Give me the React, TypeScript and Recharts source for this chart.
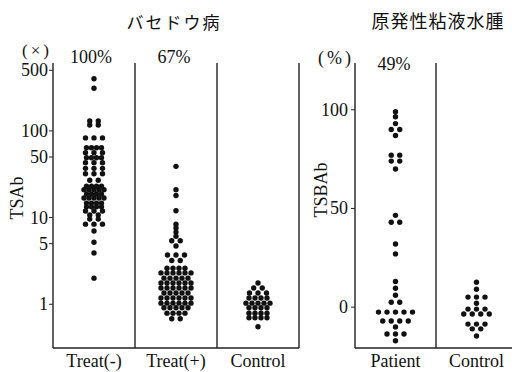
import { ScatterChart, Scatter, XAxis, YAxis, ReferenceLine } from 'recharts';

const serif = '"Liberation Serif", "DejaVu Serif", serif';
const cjk = '"Noto Sans CJK JP", "Noto Sans CJK SC", sans-serif';

const leftCategories = ['Treat(-)', 'Treat(+)', 'Control'];
const rightCategories = ['Patient', 'Control'];

// [value, dots side by side at that level]
const treatMinus: [number, number][] = [
  [400, 1], [310, 1], [130, 2], [117, 2], [83, 3], [64, 4], [56, 3], [49, 4],
  [43, 3], [37, 3], [32, 3], [27, 2], [23, 4], [21, 5], [18.7, 4], [16.8, 5],
  [14.7, 4], [13.3, 4], [11.9, 3], [10.7, 2], [9.6, 2], [8.4, 3], [7, 1],
  [5.2, 1], [3.9, 1], [2, 1],
];
const treatPlus: [number, number][] = [
  [39, 1], [21, 1], [18, 1], [12, 1], [8.4, 1], [7.6, 1], [6.8, 1], [6.1, 1],
  [5.4, 2], [4.7, 1], [3.7, 3], [3.2, 2], [2.6, 4], [2.3, 6], [2.0, 5],
  [1.76, 6], [1.54, 6], [1.35, 5], [1.18, 6], [1.03, 6], [0.91, 5], [0.79, 4],
  [0.68, 2],
];
const controlLeft: [number, number][] = [
  [1.76, 1], [1.54, 2], [1.35, 3], [1.18, 4], [1.03, 5], [0.91, 4], [0.79, 4],
  [0.7, 4], [0.55, 1],
];
const patient: [number, number][] = [
  [99, 1], [96.5, 1], [93, 1], [90, 2], [87, 1], [77, 2], [74, 2], [70, 1],
  [46.5, 1], [43, 2], [32, 1], [27, 1], [13, 1], [9.6, 1], [6, 1], [2.5, 2],
  [-2.5, 5], [-7, 4], [-10, 1], [-13.6, 3], [-17, 1],
];
const controlRight: [number, number][] = [
  [12.6, 1], [9.1, 1], [5.1, 3], [2, 1], [-1, 3], [-3.5, 4], [-8.6, 3],
  [-11, 2], [-14.6, 1],
];

const leftTicks = [1, 5, 10, 50, 100, 500];
const rightTicks = [0, 50, 100];

// spread each level's dots sideways around the group centre
function swarm(groups: [number, number][][], pxPerUnit: number, gap: (n: number, g: number) => number) {
  const pts: { x: number; y: number }[] = [];
  groups.forEach((rows, g) => {
    rows.forEach(([v, n]) => {
      const step = gap(n, g) / pxPerUnit;
      for (let i = 0; i < n; i++) {
        pts.push({ x: g + 0.5 + (i - (n - 1) / 2) * step, y: v });
      }
    });
  });
  return pts;
}

const leftPoints = swarm([treatMinus, treatPlus, controlLeft], 82, (n, g) =>
  n <= 3 ? 8.5 : g === 0 ? 5 : 6
);
const rightPoints = swarm([patient, controlRight], 81, () => 8.5);

const Dot = (props: any) => <circle cx={props.cx} cy={props.cy} r={2.7} fill="#111" />;

const ink = '#222';

const YTick = (props: any) => (
  <text x={props.x} y={props.y} textAnchor="end" dominantBaseline="central" fill="#111" fontSize={18} fontFamily={serif}>
    {props.payload.value}
  </text>
);

const makeXTick = (names: string[]) => (props: any) => (
  <text x={props.x} y={props.y} dy="0.71em" textAnchor="middle" fill="#111" fontSize={18} fontFamily={serif}>
    {names[Math.round(props.payload.value - 0.5)]}
  </text>
);
const LeftXTick = makeXTick(leftCategories);
const RightXTick = makeXTick(rightCategories);

export default function App() {
  return (
    <div style={{ position: 'fixed', left: 0, top: 0, width: 512, height: 372, overflow: 'hidden', background: '#fff' }}>
      <div style={{ position: 'absolute', left: 0, top: 0 }}>
        <ScatterChart width={310} height={372} margin={{ top: 63, right: 11, bottom: 0, left: 8 }}>
          <XAxis
            type="number"
            dataKey="x"
            domain={[0, 3]}
            ticks={[0.5, 1.5, 2.5]}
            interval={0}
            tickLine={false}
            tickSize={0}
            tickMargin={6}
            height={24}
            axisLine={{ stroke: ink, strokeWidth: 1.4 }}
            tick={LeftXTick}
          />
          <YAxis
            type="number"
            dataKey="y"
            scale="log"
            domain={[0.313, 607]}
            allowDataOverflow
            ticks={leftTicks}
            interval={0}
            width={45}
            tickSize={4}
            tickMargin={1}
            axisLine={{ stroke: ink, strokeWidth: 1.4 }}
            tickLine={{ stroke: ink }}
            tick={YTick}
          />
          <ReferenceLine x={1} stroke={ink} strokeWidth={1.4} />
          <ReferenceLine x={2} stroke={ink} strokeWidth={1.4} />
          <ReferenceLine x={3} stroke={ink} strokeWidth={1.4} />
          <Scatter data={leftPoints} shape={Dot} isAnimationActive={false} />
        </ScatterChart>
      </div>
      <div style={{ position: 'absolute', left: 300, top: 0 }}>
        <ScatterChart width={220} height={372} margin={{ top: 63, right: 3, bottom: 0, left: 10 }}>
          <XAxis
            type="number"
            dataKey="x"
            domain={[0, 2]}
            ticks={[0.5, 1.5]}
            interval={0}
            tickLine={false}
            tickSize={0}
            tickMargin={6}
            height={24}
            axisLine={{ stroke: ink, strokeWidth: 1.4 }}
            tick={RightXTick}
          />
          <YAxis
            type="number"
            dataKey="y"
            domain={[-20.7, 123.7]}
            allowDataOverflow
            ticks={rightTicks}
            interval={0}
            width={45}
            tickSize={4}
            tickMargin={3}
            axisLine={{ stroke: ink, strokeWidth: 1.4 }}
            tickLine={{ stroke: ink }}
            tick={YTick}
          />
          <ReferenceLine x={1} stroke={ink} strokeWidth={1.4} />
          <Scatter data={rightPoints} shape={Dot} isAnimationActive={false} />
        </ScatterChart>
      </div>
      <svg width={512} height={372} style={{ position: 'absolute', left: 0, top: 0, pointerEvents: 'none' }}>
        <g fill="#111" dominantBaseline="central" textAnchor="middle">
          <text x={174} y={21} fontSize={17} letterSpacing={2} fontFamily={cjk}>バセドウ病</text>
          <text x={438} y={20} fontSize={18} letterSpacing={1} fontFamily={cjk}>原発性粘液水腫</text>
          <text x={37} y={50} fontSize={17} letterSpacing={3} fontFamily={serif}>(×)</text>
          <text x={91} y={57} fontSize={18} fontFamily={serif}>100%</text>
          <text x={174} y={57} fontSize={18} fontFamily={serif}>67%</text>
          <text x={336} y={58} fontSize={18} letterSpacing={3} fontFamily={serif}>(%)</text>
          <text x={394} y={64} fontSize={18} fontFamily={serif}>49%</text>
          <text x={17} y={198} fontSize={18} fontFamily={serif} transform="rotate(-90 17 198)">TSAb</text>
          <text x={320.5} y={190} fontSize={18} fontFamily={serif} transform="rotate(-90 320.5 190)">TSBAb</text>
        </g>
      </svg>
    </div>
  );
}
